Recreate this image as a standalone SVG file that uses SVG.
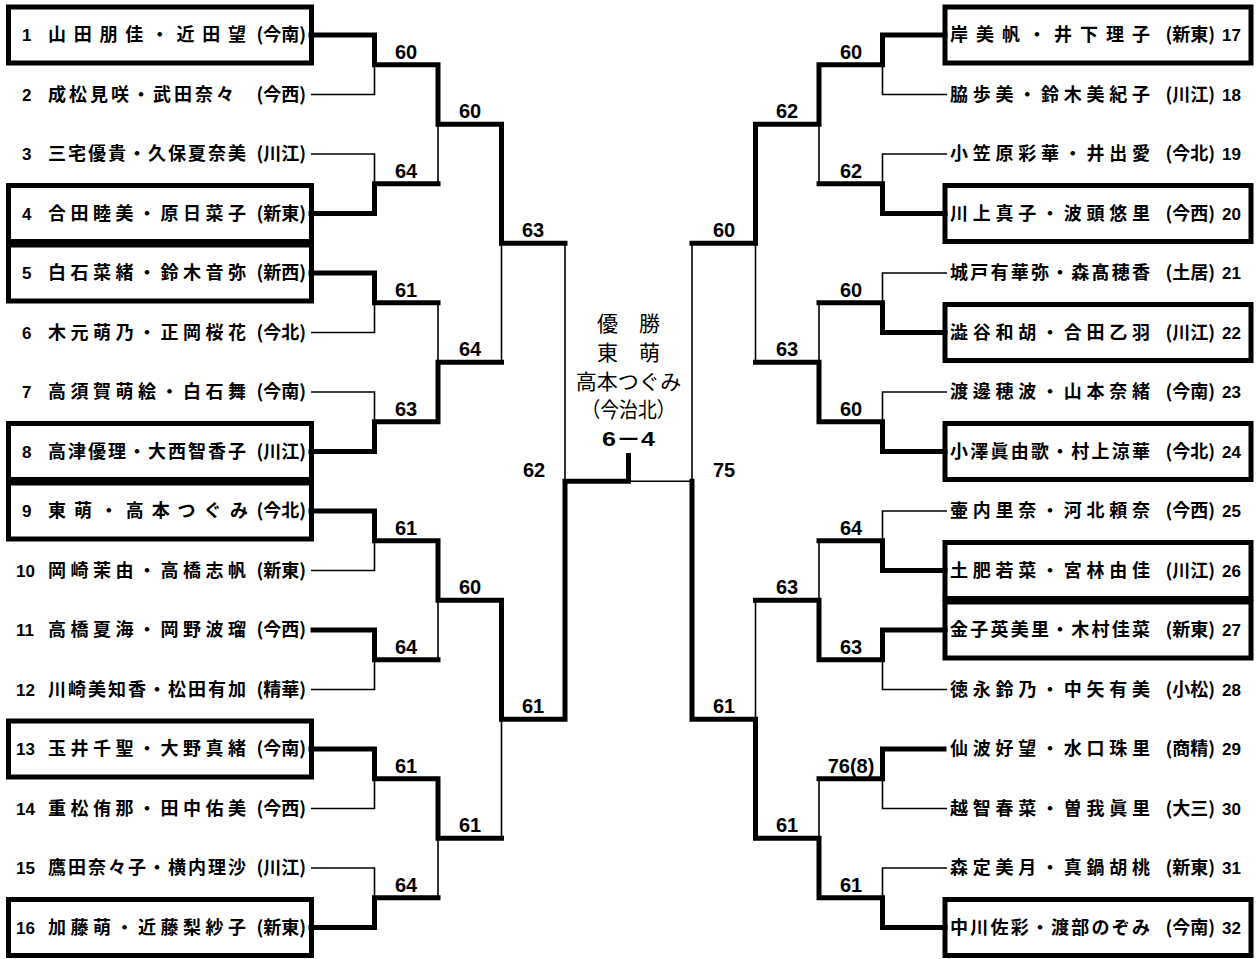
<svg xmlns="http://www.w3.org/2000/svg" width="1257" height="959" viewBox="0 0 1257 959">
<style>
.bg{fill:#fff}
.box{fill:none;stroke:#000;stroke-width:5}
.thick{fill:none;stroke:#000;stroke-width:5;stroke-linecap:square;stroke-linejoin:miter}
.thin{fill:none;stroke:#000;stroke-width:1.6}
.nm{font-family:"Noto Sans CJK JP","Noto Sans CJK SC",sans-serif;font-size:18px;font-weight:bold;fill:#000}
.tm{font-family:"Noto Sans CJK JP","Noto Sans CJK SC",sans-serif;font-size:18px;font-weight:bold;fill:#000;text-anchor:end}
.num{font-family:"Liberation Sans",Arial,sans-serif;font-size:17px;font-weight:bold;fill:#000}
.sc{font-family:"Liberation Sans",Arial,sans-serif;font-size:20px;font-weight:bold;fill:#000;text-anchor:middle}
.ct{font-family:"Noto Sans CJK JP","Noto Sans CJK SC",sans-serif;font-size:21px;fill:#000;text-anchor:middle}
.cs{font-family:"Liberation Sans",Arial,"Noto Sans CJK JP",sans-serif;font-size:21px;font-weight:bold;fill:#000;text-anchor:middle}
</style>
<rect class="bg" x="0" y="0" width="1257" height="959"/>

<g id="connectors">
<path class="thick" d="M311,35 H374.5 V64.75 H438 V124.25 H501.5 V243.25 H565"/>
<path class="thick" d="M311,213.5 H374.5 V183.75 H438"/>
<path class="thick" d="M311,273 H374.5 V302.75 H438"/>
<path class="thick" d="M311,451.5 H374.5 V421.75 H438 V362.25 H501.5"/>
<path class="thick" d="M311,511 H374.5 V540.75 H438 V600.25 H501.5 V719.25 H565 V481.25 H628.5 V455.5"/>
<path class="thick" d="M313,630 H374.5 V659.75 H438"/>
<path class="thick" d="M311,749 H374.5 V778.75 H438 V838.25 H501.5"/>
<path class="thick" d="M311,927.5 H374.5 V897.75 H438"/>
<path class="thin" d="M311,94.5 H374.5 V64.75"/>
<path class="thin" d="M311,154 H374.5 V183.75"/>
<path class="thin" d="M311,332.5 H374.5 V302.75"/>
<path class="thin" d="M311,392 H374.5 V421.75"/>
<path class="thin" d="M311,570.5 H374.5 V540.75"/>
<path class="thin" d="M311,689.5 H374.5 V659.75"/>
<path class="thin" d="M311,808.5 H374.5 V778.75"/>
<path class="thin" d="M311,868 H374.5 V897.75"/>
<path class="thin" d="M438,183.75 V124.25"/>
<path class="thin" d="M438,302.75 V362.25"/>
<path class="thin" d="M438,659.75 V600.25"/>
<path class="thin" d="M438,897.75 V838.25"/>
<path class="thin" d="M501.5,362.25 V243.25"/>
<path class="thin" d="M501.5,838.25 V719.25"/>
<path class="thin" d="M565,243.25 V481.25"/>
<path class="thick" d="M945,35 H882.5 V64.75 H819 V124.25 H755.5 V243.25 H692"/>
<path class="thick" d="M945,213.5 H882.5 V183.75 H819"/>
<path class="thick" d="M945,332.5 H882.5 V302.75 H819"/>
<path class="thick" d="M945,451.5 H882.5 V421.75 H819 V362.25 H755.5"/>
<path class="thick" d="M945,570.5 H882.5 V540.75 H819"/>
<path class="thick" d="M945,630 H882.5 V659.75 H819 V600.25 H755.5"/>
<path class="thick" d="M944,749 H882.5 V778.75 H819"/>
<path class="thick" d="M945,927.5 H882.5 V897.75 H819 V838.25 H755.5 V719.25 H692 V481.25"/>
<path class="thin" d="M947,94.5 H882.5 V64.75"/>
<path class="thin" d="M947,154 H882.5 V183.75"/>
<path class="thin" d="M947,273 H882.5 V302.75"/>
<path class="thin" d="M947,392 H882.5 V421.75"/>
<path class="thin" d="M947,511 H882.5 V540.75"/>
<path class="thin" d="M947,689.5 H882.5 V659.75"/>
<path class="thin" d="M947,808.5 H882.5 V778.75"/>
<path class="thin" d="M947,868 H882.5 V897.75"/>
<path class="thin" d="M819,183.75 V124.25"/>
<path class="thin" d="M819,302.75 V362.25"/>
<path class="thin" d="M819,540.75 V600.25"/>
<path class="thin" d="M819,778.75 V838.25"/>
<path class="thin" d="M755.5,362.25 V243.25"/>
<path class="thin" d="M755.5,600.25 V719.25"/>
<path class="thin" d="M692,243.25 V481.25 H628.5"/>
</g>

<g id="scores">
<text class="sc" x="406" y="58.75">60</text>
<text class="sc" x="406" y="177.75">64</text>
<text class="sc" x="406" y="296.75">61</text>
<text class="sc" x="406" y="415.75">63</text>
<text class="sc" x="406" y="534.75">61</text>
<text class="sc" x="406" y="653.75">64</text>
<text class="sc" x="406" y="772.75">61</text>
<text class="sc" x="406" y="891.75">64</text>
<text class="sc" x="470" y="118.25">60</text>
<text class="sc" x="470" y="356.25">64</text>
<text class="sc" x="470" y="594.25">60</text>
<text class="sc" x="470" y="832.25">61</text>
<text class="sc" x="533" y="237.25">63</text>
<text class="sc" x="533" y="713.25">61</text>
<text class="sc" x="534" y="477">62</text>
<text class="sc" x="851" y="58.75">60</text>
<text class="sc" x="851" y="177.75">62</text>
<text class="sc" x="851" y="296.75">60</text>
<text class="sc" x="851" y="415.75">60</text>
<text class="sc" x="851" y="534.75">64</text>
<text class="sc" x="851" y="653.75">63</text>
<text class="sc" x="851" y="772.75">76(8)</text>
<text class="sc" x="851" y="891.75">61</text>
<text class="sc" x="787" y="118.25">62</text>
<text class="sc" x="787" y="356.25">63</text>
<text class="sc" x="787" y="594.25">63</text>
<text class="sc" x="787" y="832.25">61</text>
<text class="sc" x="724" y="237.25">60</text>
<text class="sc" x="724" y="713.25">61</text>
<text class="sc" x="724" y="477">75</text>
</g>

<g id="champion">
<text class="ct" x="628.5" y="331">優　勝</text>
<text class="ct" x="628.5" y="360">東　萌</text>
<text class="ct" x="628.5" y="389">高本つぐみ</text>
<text class="ct" x="628.5" y="417" textLength="94" lengthAdjust="spacingAndGlyphs">（今治北）</text>
<text class="cs" x="628.5" y="446" textLength="53" lengthAdjust="spacingAndGlyphs">6－4</text>
</g>

<g id="e1"><rect class="box" x="8.5" y="7" width="303" height="56"/><text class="num" x="22" y="41">1</text><text class="nm" x="48" y="41" textLength="198" lengthAdjust="spacing">山田朋佳・近田望</text><text class="tm" x="306" y="41">(今南)</text></g>
<g id="e2"><text class="num" x="22" y="100.5">2</text><text class="nm" x="48" y="100.5" textLength="186" lengthAdjust="spacing">成松見咲・武田奈々</text><text class="tm" x="306" y="100.5">(今西)</text></g>
<g id="e3"><text class="num" x="22" y="160">3</text><text class="nm" x="48" y="160" textLength="198" lengthAdjust="spacing">三宅優貴・久保夏奈美</text><text class="tm" x="306" y="160">(川江)</text></g>
<g id="e4"><rect class="box" x="8.5" y="185.5" width="303" height="56"/><text class="num" x="22" y="219.5">4</text><text class="nm" x="48" y="219.5" textLength="198" lengthAdjust="spacing">合田睦美・原日菜子</text><text class="tm" x="306" y="219.5">(新東)</text></g>
<g id="e5"><rect class="box" x="8.5" y="245" width="303" height="56"/><text class="num" x="22" y="279">5</text><text class="nm" x="48" y="279" textLength="198" lengthAdjust="spacing">白石菜緒・鈴木音弥</text><text class="tm" x="306" y="279">(新西)</text></g>
<g id="e6"><text class="num" x="22" y="338.5">6</text><text class="nm" x="48" y="338.5" textLength="198" lengthAdjust="spacing">木元萌乃・正岡桜花</text><text class="tm" x="306" y="338.5">(今北)</text></g>
<g id="e7"><text class="num" x="22" y="398">7</text><text class="nm" x="48" y="398" textLength="198" lengthAdjust="spacing">高須賀萌絵・白石舞</text><text class="tm" x="306" y="398">(今南)</text></g>
<g id="e8"><rect class="box" x="8.5" y="423.5" width="303" height="56"/><text class="num" x="22" y="457.5">8</text><text class="nm" x="48" y="457.5" textLength="198" lengthAdjust="spacing">高津優理・大西智香子</text><text class="tm" x="306" y="457.5">(川江)</text></g>
<g id="e9"><rect class="box" x="8.5" y="483" width="303" height="56"/><text class="num" x="22" y="517">9</text><text class="nm" x="48" y="517" textLength="200" lengthAdjust="spacing">東萌・高本つぐみ</text><text class="tm" x="306" y="517">(今北)</text></g>
<g id="e10"><text class="num" x="16" y="576.5">10</text><text class="nm" x="48" y="576.5" textLength="198" lengthAdjust="spacing">岡崎茉由・高橋志帆</text><text class="tm" x="306" y="576.5">(新東)</text></g>
<g id="e11"><text class="num" x="16" y="636">11</text><text class="nm" x="48" y="636" textLength="198" lengthAdjust="spacing">高橋夏海・岡野波瑠</text><text class="tm" x="306" y="636">(今西)</text></g>
<g id="e12"><text class="num" x="16" y="695.5">12</text><text class="nm" x="48" y="695.5" textLength="198" lengthAdjust="spacing">川崎美知香・松田有加</text><text class="tm" x="306" y="695.5">(精華)</text></g>
<g id="e13"><rect class="box" x="8.5" y="721" width="303" height="56"/><text class="num" x="16" y="755">13</text><text class="nm" x="48" y="755" textLength="198" lengthAdjust="spacing">玉井千聖・大野真緒</text><text class="tm" x="306" y="755">(今南)</text></g>
<g id="e14"><text class="num" x="16" y="814.5">14</text><text class="nm" x="48" y="814.5" textLength="198" lengthAdjust="spacing">重松侑那・田中佑美</text><text class="tm" x="306" y="814.5">(今西)</text></g>
<g id="e15"><text class="num" x="16" y="874">15</text><text class="nm" x="48" y="874" textLength="198" lengthAdjust="spacing">鷹田奈々子・横内理沙</text><text class="tm" x="306" y="874">(川江)</text></g>
<g id="e16"><rect class="box" x="8.5" y="899.5" width="303" height="56"/><text class="num" x="16" y="933.5">16</text><text class="nm" x="48" y="933.5" textLength="198" lengthAdjust="spacing">加藤萌・近藤梨紗子</text><text class="tm" x="306" y="933.5">(新東)</text></g>

<g id="e17"><rect class="box" x="945" y="7" width="306" height="56"/><text class="nm" x="950" y="41" textLength="200" lengthAdjust="spacing">岸美帆・井下理子</text><text class="tm" x="1215" y="41">(新東)</text><text class="num" x="1222" y="41">17</text></g>
<g id="e18"><text class="nm" x="950" y="100.5" textLength="200" lengthAdjust="spacing">脇歩美・鈴木美紀子</text><text class="tm" x="1215" y="100.5">(川江)</text><text class="num" x="1222" y="100.5">18</text></g>
<g id="e19"><text class="nm" x="950" y="160" textLength="200" lengthAdjust="spacing">小笠原彩華・井出愛</text><text class="tm" x="1215" y="160">(今北)</text><text class="num" x="1222" y="160">19</text></g>
<g id="e20"><rect class="box" x="945" y="185.5" width="306" height="56"/><text class="nm" x="950" y="219.5" textLength="200" lengthAdjust="spacing">川上真子・波頭悠里</text><text class="tm" x="1215" y="219.5">(今西)</text><text class="num" x="1222" y="219.5">20</text></g>
<g id="e21"><text class="nm" x="950" y="279" textLength="200" lengthAdjust="spacing">城戸有華弥・森髙穂香</text><text class="tm" x="1215" y="279">(土居)</text><text class="num" x="1222" y="279">21</text></g>
<g id="e22"><rect class="box" x="945" y="304.5" width="306" height="56"/><text class="nm" x="950" y="338.5" textLength="200" lengthAdjust="spacing">澁谷和胡・合田乙羽</text><text class="tm" x="1215" y="338.5">(川江)</text><text class="num" x="1222" y="338.5">22</text></g>
<g id="e23"><text class="nm" x="950" y="398" textLength="200" lengthAdjust="spacing">渡邊穂波・山本奈緒</text><text class="tm" x="1215" y="398">(今南)</text><text class="num" x="1222" y="398">23</text></g>
<g id="e24"><rect class="box" x="945" y="423.5" width="306" height="56"/><text class="nm" x="950" y="457.5" textLength="200" lengthAdjust="spacing">小澤眞由歌・村上涼華</text><text class="tm" x="1215" y="457.5">(今北)</text><text class="num" x="1222" y="457.5">24</text></g>
<g id="e25"><text class="nm" x="950" y="517" textLength="200" lengthAdjust="spacing">壷内里奈・河北頼奈</text><text class="tm" x="1215" y="517">(今西)</text><text class="num" x="1222" y="517">25</text></g>
<g id="e26"><rect class="box" x="945" y="542.5" width="306" height="56"/><text class="nm" x="950" y="576.5" textLength="200" lengthAdjust="spacing">土肥若菜・宮林由佳</text><text class="tm" x="1215" y="576.5">(川江)</text><text class="num" x="1222" y="576.5">26</text></g>
<g id="e27"><rect class="box" x="945" y="602" width="306" height="56"/><text class="nm" x="950" y="636" textLength="200" lengthAdjust="spacing">金子英美里・木村佳菜</text><text class="tm" x="1215" y="636">(新東)</text><text class="num" x="1222" y="636">27</text></g>
<g id="e28"><text class="nm" x="950" y="695.5" textLength="200" lengthAdjust="spacing">徳永鈴乃・中矢有美</text><text class="tm" x="1215" y="695.5">(小松)</text><text class="num" x="1222" y="695.5">28</text></g>
<g id="e29"><text class="nm" x="950" y="755" textLength="200" lengthAdjust="spacing">仙波好望・水口珠里</text><text class="tm" x="1215" y="755">(商精)</text><text class="num" x="1222" y="755">29</text></g>
<g id="e30"><text class="nm" x="950" y="814.5" textLength="200" lengthAdjust="spacing">越智春菜・曽我眞里</text><text class="tm" x="1215" y="814.5">(大三)</text><text class="num" x="1222" y="814.5">30</text></g>
<g id="e31"><text class="nm" x="950" y="874" textLength="200" lengthAdjust="spacing">森定美月・真鍋胡桃</text><text class="tm" x="1215" y="874">(新東)</text><text class="num" x="1222" y="874">31</text></g>
<g id="e32"><rect class="box" x="945" y="899.5" width="306" height="56"/><text class="nm" x="950" y="933.5" textLength="200" lengthAdjust="spacing">中川佐彩・渡部のぞみ</text><text class="tm" x="1215" y="933.5">(今南)</text><text class="num" x="1222" y="933.5">32</text></g>
</svg>
